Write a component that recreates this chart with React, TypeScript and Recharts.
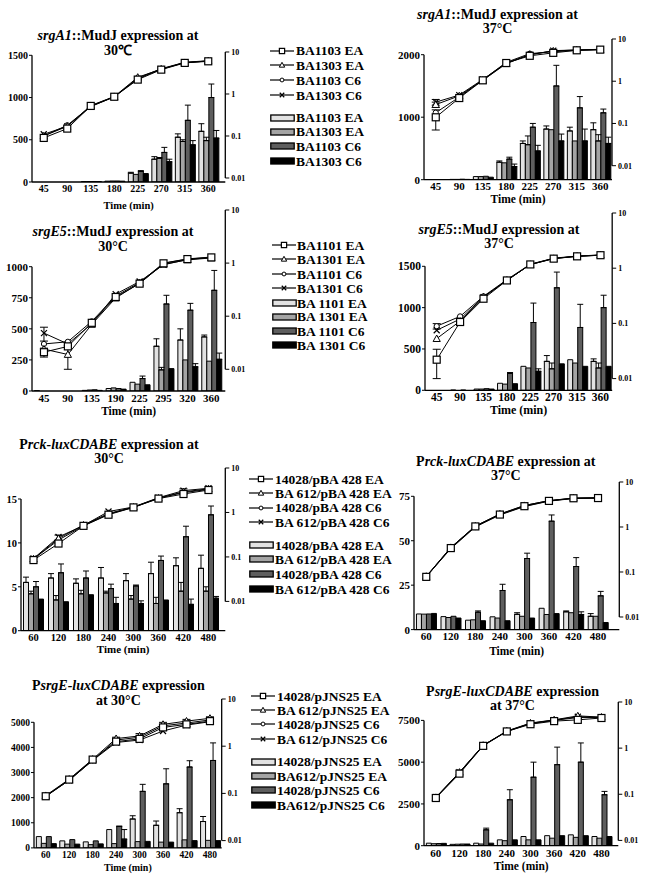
import React from "react";
import { BarChart, Bar, LineChart, Line, XAxis, YAxis, ErrorBar } from "recharts";

const SERIF = '"Liberation Serif", "Times New Roman", Times, serif';
const BAR_FILLS = ["#e2e2e2", "#a4a4a4", "#5e5e5e", "#000000"];
const MARKS = ["square", "triangle", "circle", "cross"];
const NO_ERR = [0, 0, 0, 0, 0, 0, 0, 0];
const odTicks = [0.01, 0.1, 1, 10];

// ---------- x categories (min)
const srgA1Minutes = [45, 90, 135, 180, 225, 270, 315, 360];
const srgE5At30Minutes = [45, 90, 135, 190, 225, 295, 320, 360];
const srgE5At37Minutes = [45, 90, 135, 180, 225, 270, 315, 360];
const luxMinutes = [60, 120, 180, 240, 300, 360, 420, 480];

// ---------- srgA1::MudJ 30°C  (lines: OD, right axis; bars: activity, left axis)
const srgA1At30Od = [
  [0.09, 0.15, 0.52, 0.86, 2.2, 3.8, 5.5, 6.0],
  [0.1, 0.17, 0.53, 0.87, 2.5, 3.9, 5.6, 6.1],
  [0.1, 0.18, 0.51, 0.85, 2.4, 4.0, 5.7, 6.2],
  [0.11, 0.17, 0.5, 0.86, 2.3, 3.9, 5.6, 6.1],
];
const srgA1At30Act = [
  [0, 0, 5, 10, 105, 270, 530, 600],
  [0, 0, 5, 12, 90, 280, 480, 490],
  [0, 0, 6, 12, 125, 350, 730, 1000],
  [0, 0, 5, 10, 100, 240, 440, 520],
];
const srgA1At30ActErr = [
  [0, 0, 0, 0, 10, 30, 40, 90],
  [0, 0, 0, 0, 0, 10, 20, 40],
  [0, 0, 0, 0, 10, 60, 180, 160],
  [0, 0, 0, 0, 0, 30, 50, 90],
];

// ---------- srgA1::MudJ 37°C
const srgA1At37Od = [
  [0.14, 0.4, 1.05, 2.7, 4.0, 4.7, 5.4, 5.6],
  [0.28, 0.45, 1.05, 2.6, 4.3, 5.2, 5.5, 5.6],
  [0.18, 0.42, 1.08, 2.8, 4.5, 5.0, 5.4, 5.6],
  [0.32, 0.47, 1.1, 2.7, 4.2, 5.3, 5.5, 5.7],
];
const srgA1At37OdErr = [
  [0.07, 0, 0, 0, 0, 0, 0, 0],
  [0.04, 0, 0, 0, 0, 0, 0, 0],
  [0, 0, 0, 0, 0, 0, 0, 0],
  [0.05, 0, 0, 0, 0, 0, 0, 0],
];
const srgA1At37Act = [
  [0, 5, 50, 280, 580, 810, 780, 800],
  [0, 5, 50, 270, 560, 800, 620, 620],
  [0, 8, 55, 330, 840, 1500, 1150, 1070],
  [0, 5, 40, 210, 460, 620, 620, 580],
];
const srgA1At37ActErr = [
  [0, 0, 0, 20, 40, 50, 60, 110],
  [0, 0, 0, 0, 140, 0, 0, 100],
  [0, 0, 0, 30, 60, 330, 180, 60],
  [0, 0, 0, 40, 90, 110, 190, 100],
];

// ---------- srgE5::MudJ 30°C
const srgE5At30Od = [
  [0.021, 0.027, 0.075, 0.23, 0.41, 0.99, 1.19, 1.28],
  [0.024, 0.019, 0.07, 0.22, 0.42, 0.95, 1.15, 1.25],
  [0.03, 0.033, 0.08, 0.24, 0.43, 1.0, 1.2, 1.3],
  [0.048, 0.03, 0.072, 0.26, 0.45, 0.93, 1.17, 1.27],
];
const srgE5At30OdErr = [
  [0.004, 0, 0, 0, 0, 0, 0, 0],
  [0, 0.009, 0, 0, 0, 0, 0, 0],
  [0, 0, 0, 0, 0, 0, 0, 0],
  [0.014, 0, 0, 0, 0, 0, 0, 0],
];
const srgE5At30Act = [
  [3, 0, 5, 20, 70, 360, 410, 435],
  [0, 0, 8, 25, 55, 170, 250, 240],
  [0, 0, 10, 20, 100, 700, 650, 810],
  [0, 0, 5, 15, 50, 180, 195, 255],
];
const srgE5At30ActErr = [
  [0, 0, 0, 0, 0, 60, 90, 15],
  [0, 0, 0, 0, 0, 20, 0, 0],
  [0, 0, 0, 0, 20, 70, 55, 160],
  [0, 0, 0, 0, 0, 0, 25, 50],
];

// ---------- srgE5::MudJ 37°C
const srgE5At37Od = [
  [0.022, 0.106, 0.28, 0.6, 1.17, 1.49, 1.64, 1.72],
  [0.053, 0.11, 0.3, 0.6, 1.17, 1.5, 1.65, 1.73],
  [0.089, 0.134, 0.31, 0.62, 1.18, 1.52, 1.66, 1.74],
  [0.075, 0.12, 0.3, 0.61, 1.16, 1.5, 1.64, 1.72],
];
const srgE5At37OdErr = [
  [0.012, 0, 0, 0, 0, 0, 0, 0],
  [0, 0, 0, 0, 0, 0, 0, 0],
  [0.01, 0, 0, 0, 0, 0, 0, 0],
  [0, 0, 0, 0, 0, 0, 0, 0],
];
const srgE5At37Act = [
  [0, 3, 15, 85, 290, 350, 370, 350],
  [0, 0, 15, 75, 270, 260, 330, 270],
  [0, 3, 20, 205, 820, 1240, 760, 1000],
  [0, 0, 15, 80, 230, 320, 290, 290],
];
const srgE5At37ActErr = [
  [0, 0, 0, 0, 0, 70, 0, 30],
  [0, 0, 0, 0, 0, 70, 0, 60],
  [0, 0, 0, 10, 235, 190, 280, 150],
  [0, 0, 0, 0, 30, 0, 0, 0],
];

// ---------- Prck-luxCDABE 30°C
const rckAt30Od = [
  [0.085, 0.2, 0.5, 0.89, 1.3, 2.05, 2.6, 3.2],
  [0.09, 0.26, 0.52, 0.95, 1.32, 2.1, 2.9, 3.4],
  [0.09, 0.24, 0.5, 0.92, 1.3, 2.1, 2.8, 3.3],
  [0.092, 0.28, 0.51, 1.05, 1.33, 2.15, 3.1, 3.5],
];
const rckAt30OdErr = [
  [0, 0, 0, 0, 0, 0, 0, 0],
  [0, 0.05, 0, 0, 0, 0, 0, 0],
  [0, 0, 0, 0, 0, 0, 0, 0],
  [0, 0, 0, 0, 0, 0, 0.3, 0],
];
const rckAt30Act = [
  [5.5, 6.0, 5.4, 6.0, 5.7, 6.5, 7.4, 7.1],
  [4.2, 3.5, 4.2, 4.3, 3.6, 3.1, 4.5, 4.5],
  [5.0, 6.6, 6.0, 4.8, 5.1, 8.0, 10.7, 13.2],
  [3.6, 3.3, 4.1, 3.1, 3.1, 3.5, 3.0, 3.7],
];
const rckAt30ActErr = [
  [0.6, 0.5, 0.5, 1.2, 0.8, 1.3, 0.9, 1.5],
  [0.3, 0.5, 0.4, 0.2, 0.4, 0.7, 1.0, 0.5],
  [0.6, 1.0, 0.8, 0.5, 0.1, 0.5, 1.2, 1.0],
  [0, 0, 0, 0.7, 0.3, 0, 0.6, 0.2],
];

// ---------- Prck-luxCDABE 37°C
const rckAt37Od = [
  [0.078, 0.34, 1.03, 1.89, 2.9, 3.8, 4.35, 4.4],
  [0.08, 0.35, 1.05, 1.95, 3.0, 3.85, 4.4, 4.45],
  [0.079, 0.33, 1.0, 1.85, 2.85, 3.75, 4.3, 4.4],
  [0.08, 0.35, 1.04, 1.92, 3.0, 3.85, 4.35, 4.45],
];
const rckAt37Act = [
  [8.8, 7.3, 5.3, 7.2, 8.6, 12, 10, 7.5],
  [8.7, 6.8, 5.5, 6.5, 7.5, 8.5, 9.5, 7.5],
  [8.8, 7.5, 9.8, 22, 40, 61, 35.5, 19],
  [9.1, 6.5, 5.0, 5.0, 6.5, 9.0, 8.5, 4.0],
];
const rckAt37ActErr = [
  [0, 0, 0, 0, 0.9, 0, 0.5, 1.5],
  [0, 0, 0, 0, 0, 0, 0, 0],
  [0, 0, 0.7, 3.5, 3, 3.5, 5, 2.5],
  [0, 0, 0, 0, 0, 0, 1.5, 0],
];

// ---------- PsrgE-luxCDABE 30°C
const srgEAt30Od = [
  [0.087, 0.196, 0.52, 1.25, 1.43, 2.5, 2.9, 3.4],
  [0.09, 0.2, 0.53, 1.45, 1.65, 2.9, 3.4, 3.9],
  [0.088, 0.19, 0.5, 1.35, 1.55, 2.7, 3.1, 3.6],
  [0.086, 0.19, 0.5, 1.2, 1.35, 2.1, 2.8, 3.3],
];
const srgEAt30OdErr = [
  [0, 0, 0, 0, 0.15, 0.35, 0.3, 0.35],
  [0, 0, 0, 0.1, 0.2, 0.3, 0.3, 0.3],
  [0, 0, 0, 0, 0, 0, 0, 0],
  [0, 0, 0, 0, 0, 0, 0, 0],
];
const srgEAt30Act = [
  [450, 280, 240, 730, 1150, 900, 1400, 1050],
  [180, 150, 130, 170, 250, 230, 320, 300],
  [450, 330, 280, 850, 2250, 2550, 3220, 3480],
  [170, 150, 160, 350, 260, 230, 290, 290],
];
const srgEAt30ActErr = [
  [0, 0, 0, 0, 130, 170, 160, 200],
  [0, 0, 0, 0, 0, 0, 0, 0],
  [0, 0, 0, 20, 280, 600, 250, 700],
  [0, 0, 0, 380, 0, 0, 0, 0],
];

// ---------- PsrgE-luxCDABE 37°C
const srgEAt37Od = [
  [0.083, 0.28, 1.12, 2.3, 3.3, 3.85, 4.1, 4.5],
  [0.085, 0.3, 1.15, 2.35, 3.5, 4.1, 5.0, 4.7],
  [0.084, 0.29, 1.14, 2.3, 3.4, 4.0, 4.6, 4.6],
  [0.086, 0.3, 1.15, 2.32, 3.45, 4.05, 4.8, 4.65],
];
const srgEAt37Act = [
  [150, 80, 150, 350, 550, 600, 650, 550],
  [120, 90, 100, 300, 350, 450, 500, 450],
  [130, 100, 950, 2750, 4100, 4850, 5000, 3050],
  [140, 100, 150, 350, 350, 600, 600, 550],
];
const srgEAt37ActErr = [
  [0, 0, 0, 0, 0, 0, 0, 0],
  [0, 0, 0, 0, 0, 0, 0, 0],
  [0, 0, 100, 600, 900, 1050, 1150, 200],
  [0, 0, 0, 0, 0, 0, 0, 0],
];

// ---------- legend labels
const mudA1LineLabels = ["BA1103 EA", "BA1303 EA", "BA1103 C6", "BA1303 C6"];
const mudA1BarLabels = ["BA1103 EA", "BA1303 EA", "BA1103 C6", "BA1303 C6"];
const mudE5LineLabels = ["BA1101 EA", "BA1301 EA", "BA1101 C6", "BA1301 C6"];
const mudE5BarLabels = ["BA 1101 EA", "BA 1301 EA", "BA 1101 C6", "BA 1301 C6"];
const rckLineLabels = ["14028/pBA 428 EA", "BA 612/pBA 428 EA", "14028/pBA 428 C6", "BA 612/pBA 428 C6"];
const rckBarLabels = ["14028/pBA 428 EA", "BA 612/pBA 428 EA", "14028/pBA 428 C6", "BA 612/pBA 428 C6"];
const jnsLineLabels = ["14028/pJNS25 EA", "BA 612/pJNS25 EA", "14028/pJNS25 C6", "BA 612/pJNS25 C6"];
const jnsBarLabels = ["14028/pJNS25 EA", "BA612/pJNS25 EA", "14028/pJNS25 C6", "BA612/pJNS25 C6"];

// panel geometry, page pixels
const geoA30 = { left: 31.7, right: 225, top: 55, bottom: 181.7, rTop: 51.7, rBottom: 177.7, padR: 5.3, timeY: 205, font: 10, cx: 118, t1: 35.5, t2: 50 };
const geoA37 = { left: 424, right: 612, top: 55, bottom: 180, rTop: 39.3, rBottom: 166, padR: 0, timeY: 200, font: 11, cx: 497.5, t1: 14.2, t2: 28.6 };
const geoE30 = { left: 31.7, right: 225, top: 266.7, bottom: 391, rTop: 210, rBottom: 369.3, padR: 2, timeY: 411.7, font: 11, cx: 113, t1: 231.7, t2: 246.7 };
const geoE37 = { left: 424.5, right: 611.7, top: 266, bottom: 390, rTop: 212.7, rBottom: 378.3, padR: 0, timeY: 410.7, font: 11.5, cx: 499, t1: 229.3, t2: 243.8 };
const geoR30 = { left: 20.7, right: 225, top: 499.3, bottom: 631, rTop: 468.3, rBottom: 601.7, padR: 4.3, timeY: 650, font: 10.5, cx: 109, t1: 444.4, t2: 458.8 };
const geoR37 = { left: 414, right: 619.3, top: 496, bottom: 629.3, rTop: 481.7, rBottom: 616.7, padR: 9, timeY: 651, font: 11, cx: 505.8, t1: 461, t2: 475.5 };
const geoS30 = { left: 34, right: 221.7, top: 722.7, bottom: 848.3, rTop: 699.4, rBottom: 841, padR: 0, timeY: 868, font: 9.5, cx: 118.3, t1: 685, t2: 700 };
const geoS37 = { left: 424, right: 618.3, top: 720.7, bottom: 846, rTop: 702.3, rBottom: 840.7, padR: 5, timeY: 866.7, font: 11, cx: 512.5, t1: 691, t2: 705.5 };

function rowsOf(minutes, od, odErr, act, actErr) {
  return minutes.map((t, i) => {
    const r: any = { t };
    for (let k = 0; k < 4; k++) {
      r[`o${k}`] = od[k][i];
      r[`oe${k}`] = odErr[k][i] || null;
      r[`a${k}`] = act[k][i];
      r[`ae${k}`] = actErr[k][i] ? [0, actErr[k][i]] : null;
    }
    return r;
  });
}

function Marker({ cx, cy, kind, s = 1 }) {
  if (cx == null || cy == null || isNaN(cx) || isNaN(cy)) return null;
  if (kind === "square") {
    const h = 3.5 * s;
    return <rect x={cx - h} y={cy - h} width={2 * h} height={2 * h} fill="#fff" stroke="#000" strokeWidth={1.2} />;
  }
  if (kind === "triangle") {
    const h = 3.6 * s;
    return <polygon points={`${cx},${cy - h} ${cx + h},${cy + h * 0.8} ${cx - h},${cy + h * 0.8}`} fill="#fff" stroke="#000" strokeWidth={1} />;
  }
  if (kind === "circle") {
    return <circle cx={cx} cy={cy} r={2.6 * s} fill="#fff" stroke="#000" strokeWidth={1} />;
  }
  const h = 3 * s;
  return <path d={`M${cx - h} ${cy - h}L${cx + h} ${cy + h}M${cx - h} ${cy + h}L${cx + h} ${cy - h}`} stroke="#000" strokeWidth={1.2} fill="none" />;
}

function Panel({ g, minutes, od, odErr, act, actErr, yMax, yTicks, title }) {
  const rows = rowsOf(minutes, od, odErr, act, actErr);
  const x0 = g.left - 40;
  const y0 = Math.min(g.top, g.rTop) - 12;
  const W = g.right + 40 - x0;
  const H = g.timeY + 12 - y0;
  const xh = g.timeY + 3.5 - g.bottom;
  const pad = { left: 0, right: g.padR };
  const tick = { fontSize: g.font, fontFamily: SERIF, fontWeight: 700, fill: "#000" };
  const axisLine = { stroke: "#000", strokeWidth: 1.3 };
  return (
    <>
      <div style={{ position: "absolute", left: x0, top: y0 }}>
        <BarChart width={W} height={H} data={rows} margin={{ top: g.top - y0, right: 40, bottom: 8.5, left: 10 }} barGap={0} barCategoryGap="10%">
          <XAxis
            dataKey="t"
            interval={0}
            padding={pad}
            height={xh}
            tickLine={false}
            tickSize={2}
            tickMargin={1}
            tick={tick}
            axisLine={axisLine}
            label={{ value: "Time (min)", position: "insideBottom", offset: 0, fontSize: g.font + 0.5, fontFamily: SERIF, fontWeight: 700, fill: "#000" }}
          />
          <YAxis width={30} domain={[0, yMax]} ticks={yTicks} interval={0} allowDataOverflow tickSize={3} tickMargin={1} tick={tick} axisLine={axisLine} tickLine={{ stroke: "#000" }} />
          {act.map((_, k) => (
            <Bar key={k} dataKey={`a${k}`} fill={BAR_FILLS[k]} stroke="#000" strokeWidth={1} isAnimationActive={false}>
              <ErrorBar dataKey={`ae${k}`} width={3} stroke="#000" strokeWidth={1} direction="y" />
            </Bar>
          ))}
        </BarChart>
      </div>
      <div style={{ position: "absolute", left: x0, top: y0 }}>
        <LineChart width={W} height={H} data={rows} margin={{ top: g.rTop - y0, right: 10, bottom: g.timeY + 12 - g.rBottom, left: 40 }}>
          <XAxis dataKey="t" hide scale="band" padding={pad} />
          <YAxis
            orientation="right"
            width={30}
            type="number"
            scale="log"
            domain={[0.01, 10]}
            ticks={odTicks}
            interval={0}
            allowDataOverflow
            tickSize={4}
            tickMargin={2}
            tick={{ ...tick, fontSize: 8 }}
            axisLine={axisLine}
            tickLine={{ stroke: "#000" }}
          />
          {[3, 2, 1, 0].map((k) => (
            <Line
              key={k}
              dataKey={`o${k}`}
              stroke="#000"
              strokeWidth={1}
              isAnimationActive={false}
              dot={(p: any) => <Marker key={`${k}-${p.index}`} cx={p.cx} cy={p.cy} kind={MARKS[k]} />}
            >
              <ErrorBar dataKey={`oe${k}`} width={4} stroke="#000" strokeWidth={1} direction="y" />
            </Line>
          ))}
        </LineChart>
      </div>
      {[g.t1, g.t2].map((ty, i) => (
        <div
          key={i}
          style={{ position: "absolute", left: g.cx - 170, width: 340, top: ty - 6.5, height: 13, lineHeight: "13px", fontSize: 14, textAlign: "center", whiteSpace: "nowrap" }}
        >
          {title[i]}
        </div>
      ))}
    </>
  );
}

function LegendBlock({ x, tx, lineYs, barYs, lineLabels, barLabels, fs = 13.5 }) {
  const text = (y) => ({ position: "absolute" as const, left: tx, top: y - 6.5, height: 13, fontSize: fs, lineHeight: "13px", whiteSpace: "nowrap" as const });
  return (
    <>
      {lineLabels.map((lab, k) => (
        <React.Fragment key={`l${k}`}>
          <svg style={{ position: "absolute", left: x, top: lineYs[k] - 5 }} width={24} height={10}>
            <line x1={0} y1={5} x2={24} y2={5} stroke="#000" strokeWidth={1.2} />
            <Marker cx={12} cy={5} kind={MARKS[k]} s={0.75} />
          </svg>
          <div style={text(lineYs[k])}>{lab}</div>
        </React.Fragment>
      ))}
      {barLabels.map((lab, k) => (
        <React.Fragment key={`b${k}`}>
          <svg style={{ position: "absolute", left: x, top: barYs[k] - 5 }} width={25} height={10}>
            <rect x={0.8} y={2} width={23.4} height={6} fill={BAR_FILLS[k]} stroke="#000" strokeWidth={1.3} />
          </svg>
          <div style={text(barYs[k])}>{lab}</div>
        </React.Fragment>
      ))}
    </>
  );
}

export default function App() {
  return (
    <div style={{ position: "absolute", left: 0, top: 0, width: 651, height: 880, background: "#fff", fontFamily: SERIF, fontWeight: 700, color: "#000", overflow: "hidden" }}>
      <Panel g={geoA30} minutes={srgA1Minutes} od={srgA1At30Od} odErr={[NO_ERR, NO_ERR, NO_ERR, NO_ERR]} act={srgA1At30Act} actErr={srgA1At30ActErr} yMax={1500} yTicks={[0, 500, 1000, 1500]}
        title={[<><i>srgA1</i>::MudJ expression at</>, "30℃"]} />
      <Panel g={geoA37} minutes={srgA1Minutes} od={srgA1At37Od} odErr={srgA1At37OdErr} act={srgA1At37Act} actErr={srgA1At37ActErr} yMax={2000} yTicks={[0, 1000, 2000]}
        title={[<><i>srgA1</i>::MudJ expression at</>, "37°C"]} />
      <Panel g={geoE30} minutes={srgE5At30Minutes} od={srgE5At30Od} odErr={srgE5At30OdErr} act={srgE5At30Act} actErr={srgE5At30ActErr} yMax={1000} yTicks={[0, 250, 500, 750, 1000]}
        title={[<><i>srgE5</i>::MudJ expression at</>, "30°C"]} />
      <Panel g={geoE37} minutes={srgE5At37Minutes} od={srgE5At37Od} odErr={srgE5At37OdErr} act={srgE5At37Act} actErr={srgE5At37ActErr} yMax={1500} yTicks={[0, 500, 1000, 1500]}
        title={[<><i>srgE5</i>::MudJ expression at</>, "37°C"]} />
      <Panel g={geoR30} minutes={luxMinutes} od={rckAt30Od} odErr={rckAt30OdErr} act={rckAt30Act} actErr={rckAt30ActErr} yMax={15} yTicks={[0, 5, 10, 15]}
        title={[<>P<i>rck-luxCDABE</i> expression at</>, "30°C"]} />
      <Panel g={geoR37} minutes={luxMinutes} od={rckAt37Od} odErr={[NO_ERR, NO_ERR, NO_ERR, NO_ERR]} act={rckAt37Act} actErr={rckAt37ActErr} yMax={75} yTicks={[0, 25, 50, 75]}
        title={[<>P<i>rck-luxCDABE</i> expression at</>, "37°C"]} />
      <Panel g={geoS30} minutes={luxMinutes} od={srgEAt30Od} odErr={srgEAt30OdErr} act={srgEAt30Act} actErr={srgEAt30ActErr} yMax={5000} yTicks={[0, 1000, 2000, 3000, 4000, 5000]}
        title={[<>P<i>srgE-luxCDABE</i> expression</>, "at 30°C"]} />
      <Panel g={geoS37} minutes={luxMinutes} od={srgEAt37Od} odErr={[NO_ERR, NO_ERR, NO_ERR, NO_ERR]} act={srgEAt37Act} actErr={srgEAt37ActErr} yMax={7500} yTicks={[0, 2500, 5000, 7500]}
        title={[<>P<i>srgE-luxCDABE</i> expression</>, "at 37°C"]} />

      <LegendBlock x={270} tx={296} lineYs={[50.7, 65, 80, 95]} barYs={[117.7, 131.7, 146, 161]} lineLabels={mudA1LineLabels} barLabels={mudA1BarLabels} />
      <LegendBlock x={271.7} tx={297} lineYs={[245, 259.3, 274, 288.3]} barYs={[303.3, 316.7, 331, 345]} lineLabels={mudE5LineLabels} barLabels={mudE5BarLabels} />
      <LegendBlock x={249} tx={275} lineYs={[479, 493.3, 507.7, 522.3]} barYs={[545, 559.3, 574, 589]} lineLabels={rckLineLabels} barLabels={rckBarLabels} />
      <LegendBlock x={251} tx={277} lineYs={[696, 710, 724.3, 739]} barYs={[761.7, 776, 790, 805]} lineLabels={jnsLineLabels} barLabels={jnsBarLabels} />
    </div>
  );
}
